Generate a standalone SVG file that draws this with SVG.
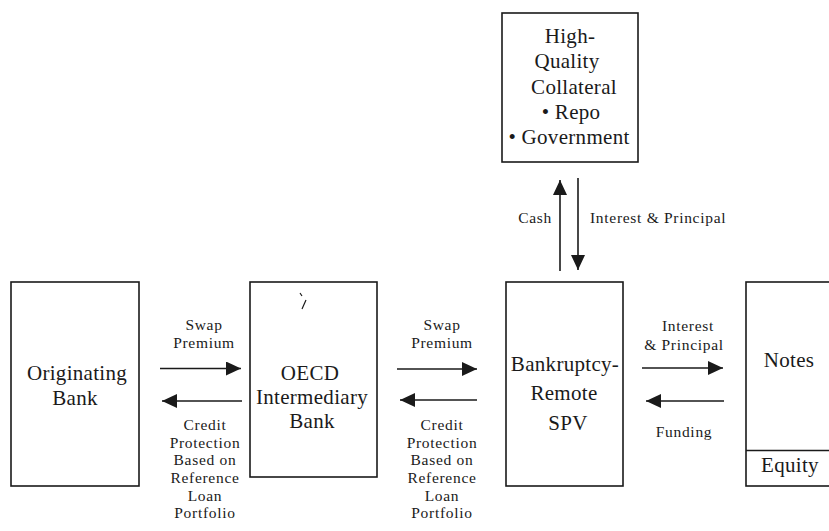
<svg xmlns="http://www.w3.org/2000/svg" width="829" height="531" viewBox="0 0 829 531">
<defs>
<style>
.box{fill:#fff;stroke:#1a1a1a;stroke-width:1.6}
.nt{font-family:"Liberation Serif","Times New Roman",serif;font-size:21px;letter-spacing:0.3px;fill:#1a1a1a;text-anchor:middle}
.lb{font-family:"Liberation Serif","Times New Roman",serif;font-size:15.5px;letter-spacing:0.7px;fill:#1a1a1a;text-anchor:middle}
.cn{stroke:#1a1a1a;stroke-width:1.6;fill:none;marker-end:url(#ah)}
</style>
<marker id="ah" markerUnits="userSpaceOnUse" markerWidth="15" markerHeight="14" refX="15" refY="7" orient="auto">
<path d="M0,0 L15,7 L0,14 z" fill="#1a1a1a"/>
</marker>
</defs>
<rect width="829" height="531" fill="#fff"/>

<g id="collateral">
<rect class="box" x="502" y="13" width="136" height="149"/>
<text class="nt" x="570" y="43">High-</text>
<text class="nt" x="567" y="68">Quality</text>
<text class="nt" x="574" y="94">Collateral</text>
<text class="nt" x="571" y="119">• Repo</text>
<text class="nt" x="569" y="144">• Government</text>
</g>

<g id="originating-bank">
<rect class="box" x="11" y="282" width="128" height="204"/>
<text class="nt" x="77" y="380">Originating</text>
<text class="nt" x="75" y="405">Bank</text>
</g>

<g id="oecd-bank">
<rect class="box" x="250" y="282" width="127" height="195"/>
<path d="M300,293 l2,3 M306,300 l-4,9" stroke="#1a1a1a" stroke-width="1.2" fill="none"/>
<text class="nt" x="310" y="380">OECD</text>
<text class="nt" x="312" y="404">Intermediary</text>
<text class="nt" x="312" y="428">Bank</text>
</g>

<g id="spv">
<rect class="box" x="506" y="282" width="117" height="204"/>
<text class="nt" x="565" y="371">Bankruptcy-</text>
<text class="nt" x="564" y="400">Remote</text>
<text class="nt" x="568" y="430">SPV</text>
</g>

<g id="notes">
<rect class="box" x="746" y="282" width="90" height="204"/>
<line x1="746" y1="450.5" x2="829" y2="450.5" stroke="#1a1a1a" stroke-width="1.6"/>
<text class="nt" x="789" y="367">Notes</text>
<text class="nt" x="790" y="472">Equity</text>
</g>

<g id="connectors">
<line class="cn" x1="160" y1="368.5" x2="241" y2="368.5"/>
<line class="cn" x1="242" y1="401" x2="162" y2="401"/>
<line class="cn" x1="397" y1="369" x2="477" y2="369"/>
<line class="cn" x1="477" y1="400" x2="400" y2="400"/>
<line class="cn" x1="642" y1="368" x2="723" y2="368"/>
<line class="cn" x1="724" y1="401" x2="646" y2="401"/>
<line class="cn" x1="560" y1="271" x2="560" y2="180"/>
<line class="cn" x1="578" y1="178" x2="578" y2="270"/>
</g>

<g id="labels">
<text class="lb" x="204" y="330">Swap</text>
<text class="lb" x="204" y="348">Premium</text>
<text class="lb" x="205" y="430">Credit</text>
<text class="lb" x="205" y="447.5">Protection</text>
<text class="lb" x="205" y="465">Based on</text>
<text class="lb" x="205" y="483">Reference</text>
<text class="lb" x="205" y="500.5">Loan</text>
<text class="lb" x="205" y="518">Portfolio</text>

<text class="lb" x="442" y="330">Swap</text>
<text class="lb" x="442" y="348">Premium</text>
<text class="lb" x="442" y="430">Credit</text>
<text class="lb" x="442" y="447.5">Protection</text>
<text class="lb" x="442" y="465">Based on</text>
<text class="lb" x="442" y="483">Reference</text>
<text class="lb" x="442" y="500.5">Loan</text>
<text class="lb" x="442" y="518">Portfolio</text>

<text class="lb" x="688" y="331">Interest</text>
<text class="lb" x="684" y="350">&amp; Principal</text>
<text class="lb" x="684" y="437">Funding</text>

<text class="lb" x="552" y="223" style="text-anchor:end">Cash</text>
<text class="lb" x="590" y="223" style="text-anchor:start">Interest &amp; Principal</text>
</g>
</svg>
